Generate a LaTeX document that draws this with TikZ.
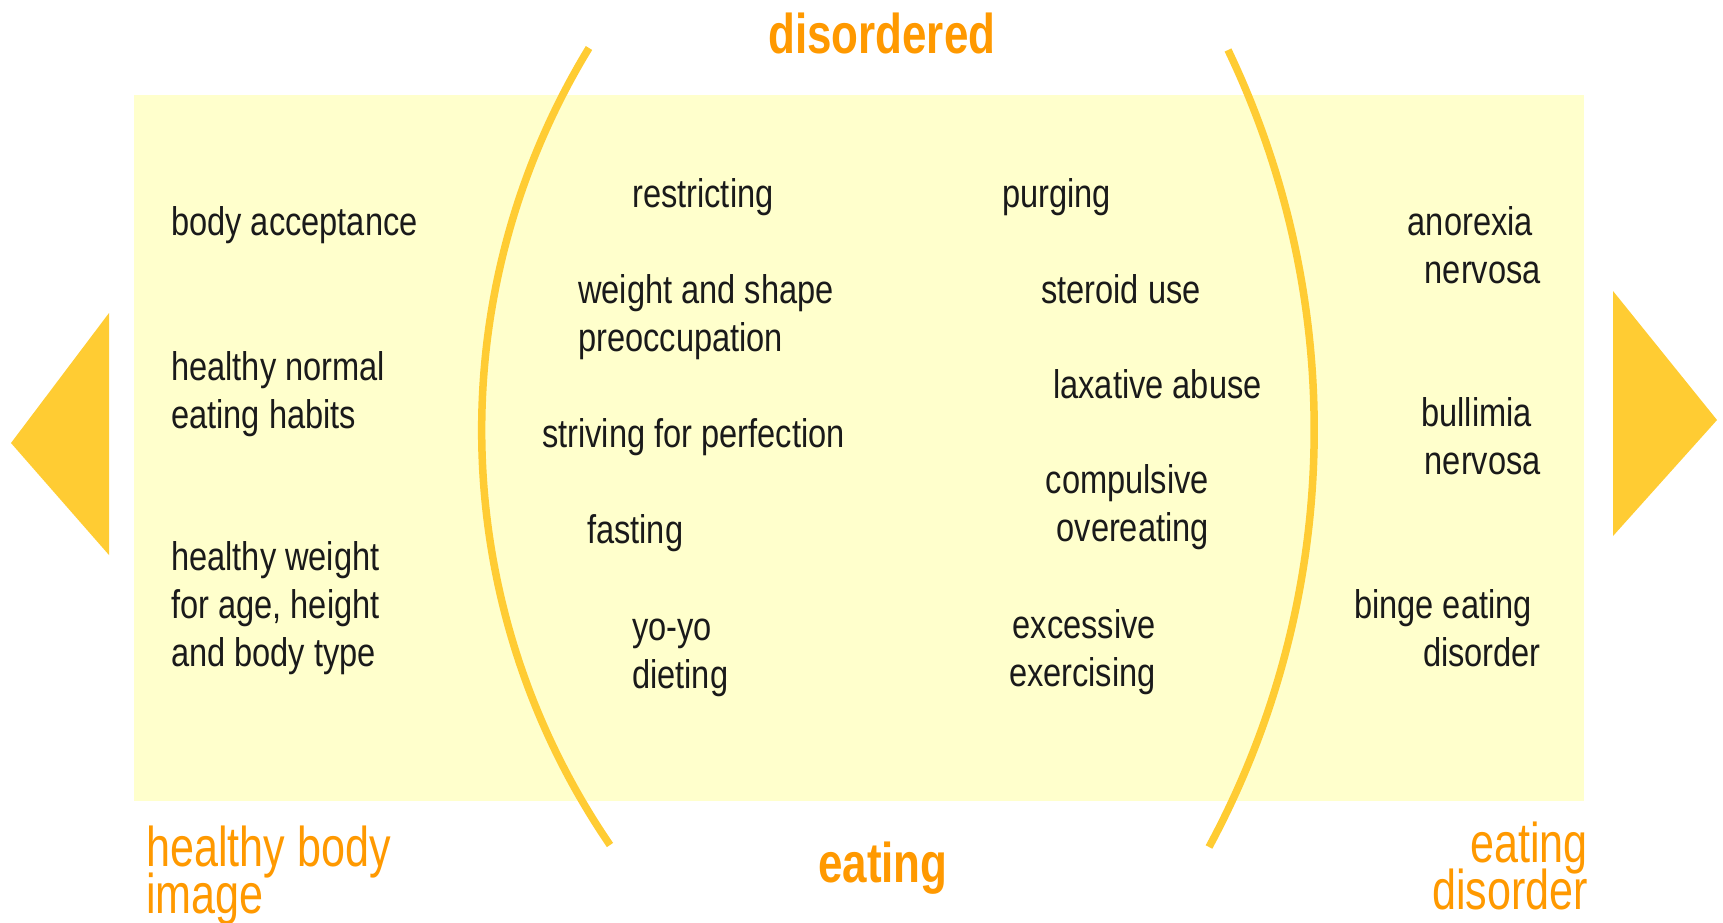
\documentclass[tikz,border=0pt]{standalone}
\usepackage{fontspec}
\setmainfont{Liberation Sans}
\newfontfamily\bodyf{Liberation Sans}[FakeStretch=0.815]
\newfontfamily\labf{Liberation Sans}[FakeStretch=0.77]
\newfontfamily\labbf{Liberation Sans Bold}[FakeStretch=0.785]
\definecolor{paleY}{HTML}{FFFFCC}
\definecolor{goldY}{HTML}{FFCC33}
\definecolor{orng}{HTML}{FF9900}
\definecolor{txt}{HTML}{1A1A1A}
\newcommand\linesL[1]{\vtop{\lineskiplimit=-100pt\halign{##\hfil\cr#1\crcr}}}
\newcommand\linesR[1]{\vtop{\lineskiplimit=-100pt\halign{\hfil##\cr#1\crcr}}}
\begin{document}
\begin{tikzpicture}[x=1pt,y=-1pt,
  bodytext/.style={font=\bodyf\fontsize{40}{48}\selectfont, text=txt, inner sep=0pt},
  labtext/.style={font=\labf\fontsize{56}{47}\selectfont, text=orng, inner sep=0pt},
  labbold/.style={font=\labbf\fontsize{56}{47}\selectfont, text=orng, inner sep=0pt},
  arcline/.style={draw=goldY, line width=7.5pt},
  pointer/.style={fill=goldY}]
\useasboundingbox (0,0) rectangle (1723,922);
% background panel
\fill[paleY] (134,95) rectangle (1584,801);
% side pointers
\fill[pointer] (109,313) -- (109,555) -- (11,443) -- cycle;
\fill[pointer] (1613,291) -- (1613,536) -- (1717,420) -- cycle;
% brackets
\draw[arcline] (589,48) .. controls (438.6,294.7) and (446.9,606.5) .. (610,845);
\draw[arcline] (1228,50) .. controls (1349.3,303.5) and (1342.2,599.6) .. (1209,847);
% left column
\node[bodytext, anchor=base west] (bodyacc) at (171,235) {body acceptance};
\node[bodytext, anchor=base west] (eathab) at (171,380) {\linesL{healthy normal\cr eating habits}};
\node[bodytext, anchor=base west] (hweight) at (171,570) {\linesL{healthy weight\cr for age, height\cr and body type}};
% middle left
\node[bodytext, anchor=base west] (restr) at (632,207) {restricting};
\node[bodytext, anchor=base west] (wshape) at (578,303) {\linesL{weight and shape\cr preoccupation}};
\node[bodytext, anchor=base west] (striv) at (542,447) {striving for perfection};
\node[bodytext, anchor=base west] (fast) at (587,543) {fasting};
\node[bodytext, anchor=base west] (yoyo) at (632,640) {\linesL{yo-yo\cr dieting}};
% middle right
\node[bodytext, anchor=base west] (purg) at (1002,207) {purging};
\node[bodytext, anchor=base west] (steroid) at (1041,303) {steroid use};
\node[bodytext, anchor=base west] (laxa) at (1053,398) {laxative abuse};
\node[bodytext, anchor=base east] (compuls) at (1209,493) {\linesR{compulsive\cr overeating}};
\node[bodytext, anchor=base east] (excess) at (1156,638) {\linesR{excessive\cr exercising}};
% right column
\node[bodytext, anchor=base east] (anor) at (1541,235) {\linesR{anorexia\kern8pt\cr nervosa}};
\node[bodytext, anchor=base east] (bulim) at (1541,426) {\linesR{bullimia\kern9pt\cr nervosa}};
\node[bodytext, anchor=base east] (binge) at (1541,618) {\linesR{binge eating\kern9pt\cr disorder}};
% orange labels
\node[labbold, anchor=base west] (dis) at (768,53) {disordered};
\node[labtext, anchor=base west] (hbi) at (146,866) {\linesL{healthy body\cr image}};
\node[labbold, anchor=base west] (eat) at (818,882) {eating};
\node[labtext, anchor=base east] (edis) at (1588,862) {\linesR{eating\cr disorder}};
\end{tikzpicture}
\end{document}
